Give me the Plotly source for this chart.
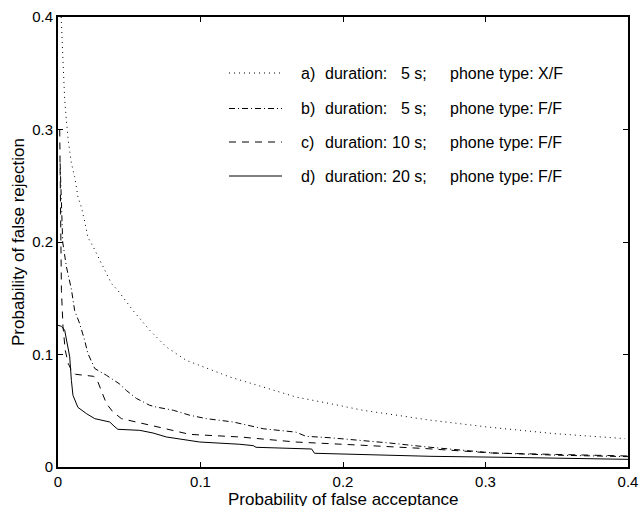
import plotly.graph_objects as go

# ---- data ----
a_x = [0.0022, 0.003, 0.004, 0.0047, 0.0059, 0.0072, 0.0094, 0.0117, 0.014, 0.0164, 0.0188, 0.021,
       0.0246, 0.028, 0.0328, 0.0375, 0.042, 0.0527, 0.0644, 0.076, 0.090, 0.109, 0.1206, 0.144,
       0.167, 0.191, 0.214, 0.238, 0.259, 0.301, 0.348, 0.398]
a_y = [0.40, 0.370, 0.347, 0.326, 0.308, 0.290, 0.270, 0.258, 0.240, 0.231, 0.218, 0.204,
       0.196, 0.187, 0.175, 0.163, 0.157, 0.139, 0.1215, 0.1067, 0.0948, 0.086, 0.080, 0.0711,
       0.0622, 0.0563, 0.0504, 0.046, 0.042, 0.0356, 0.0297, 0.0252]

b_x = [0.0015, 0.0024, 0.0033, 0.0059, 0.0082, 0.0094, 0.0117, 0.0152, 0.0187, 0.021, 0.0258,
       0.034, 0.043, 0.048, 0.055, 0.0644, 0.069, 0.081, 0.0925, 0.104, 0.123, 0.1346, 0.144,
       0.167, 0.174, 0.191, 0.214, 0.233, 0.259, 0.305, 0.35, 0.40]
b_y = [0.27, 0.222, 0.20, 0.178, 0.166, 0.158, 0.139, 0.1275, 0.1126, 0.1008, 0.0875,
       0.0815, 0.074, 0.068, 0.061, 0.0548, 0.0533, 0.0504, 0.046, 0.043, 0.040, 0.037, 0.034,
       0.031, 0.0273, 0.026, 0.0237, 0.0213, 0.0178, 0.0125, 0.0105, 0.0092]

c_x = [0.0012, 0.0015, 0.0018, 0.0024, 0.0035, 0.0051, 0.0072, 0.0094, 0.0123, 0.025, 0.028,
       0.031, 0.034, 0.0385, 0.0445, 0.068, 0.0925, 0.1276, 0.167, 0.214, 0.259, 0.305, 0.35, 0.40]
c_y = [0.30, 0.25, 0.20, 0.157, 0.125, 0.1037, 0.092, 0.086, 0.0824, 0.0806, 0.0756,
       0.066, 0.0563, 0.049, 0.043, 0.0362, 0.029, 0.0267, 0.0222, 0.0193, 0.0163, 0.0124, 0.011, 0.0098]

d_x = [0, 0.0025, 0.0047, 0.0065, 0.0082, 0.0094, 0.0105, 0.014, 0.02, 0.0258, 0.0363, 0.040,
       0.042, 0.0574, 0.0667, 0.076, 0.09, 0.0995, 0.1276, 0.137, 0.139, 0.178, 0.18, 0.214,
       0.261, 0.32, 0.40]
d_y = [0.126, 0.125, 0.1215, 0.11, 0.098, 0.077, 0.0637, 0.053, 0.0474, 0.043, 0.040, 0.0356,
       0.0335, 0.0326, 0.0302, 0.0267, 0.0237, 0.0222, 0.0202, 0.019, 0.0175, 0.016, 0.0122, 0.011,
       0.0095, 0.0085, 0.0068]

labels = ["a)", "b)", "c)", "d)"]
durations = ["5 s;", "5 s;", "10 s;", "20 s;"]
phones = ["phone type: X/F", "phone type: F/F", "phone type: F/F", "phone type: F/F"]
tick_vals = [0, 0.1, 0.2, 0.3, 0.4]
tick_text = ["0", "0.1", "0.2", "0.3", "0.4"]
x_title = "Probability of false acceptance"
y_title = "Probability of false rejection"

# ---- styling ----
FONT = "Liberation Sans, Arial, Helvetica, sans-serif"
dashes = ["1px,4px", "6px,3px,1px,3px", "7px,6px", "solid"]
W, H = 642, 506
ML, MR, MT, MB = 58, 14, 17, 39
PW, PH = W - ML - MR, H - MT - MB


def px2paper(px, py):
    return (px - ML) / PW, (H - MB - py) / PH


fig = go.Figure()
for xs, ys, dash, lab in zip([a_x, b_x, c_x, d_x], [a_y, b_y, c_y, d_y], dashes, labels):
    fig.add_trace(go.Scatter(x=xs, y=ys, mode="lines", name=lab, showlegend=False,
                             line=dict(color="black", width=1, dash=dash)))

# manual legend
row_y = [73, 108.5, 142, 176]
shapes, annots = [], []
for i in range(4):
    x0, y0 = px2paper(229, row_y[i])
    x1, _ = px2paper(282, row_y[i])
    shapes.append(dict(type="line", xref="paper", yref="paper", x0=x0, x1=x1, y0=y0, y1=y0,
                       line=dict(color="black", width=1, dash=dashes[i])))
    common = dict(xref="paper", yref="paper", y=y0, yanchor="middle", showarrow=False,
                  font=dict(family=FONT, size=16, color="black"))
    xa, _ = px2paper(299, row_y[i])
    annots.append(dict(x=xa, xanchor="left", text=labels[i], **common))
    xb, _ = px2paper(323, row_y[i])
    annots.append(dict(x=xb, xanchor="left", text="duration:", **common))
    xc, _ = px2paper(429, row_y[i])
    annots.append(dict(x=xc, xanchor="right", text=durations[i], **common))
    xd, _ = px2paper(448, row_y[i])
    annots.append(dict(x=xd, xanchor="left", text=phones[i], **common))

# axis titles as annotations (reference title sits partly below the page edge)
_, ty = px2paper(0, 500)
annots.append(dict(xref="paper", yref="paper", x=0.5, y=ty, xanchor="center", yanchor="middle",
                   showarrow=False, text=x_title, font=dict(family=FONT, size=17, color="black")))
tx, _ = px2paper(18, 0)
annots.append(dict(xref="paper", yref="paper", x=tx, y=0.5, xanchor="center", yanchor="middle",
                   showarrow=False, textangle=-90, text=y_title,
                   font=dict(family=FONT, size=17, color="black")))

axis_common = dict(range=[0, 0.4], tickvals=tick_vals, ticktext=tick_text, ticks="inside",
                   ticklen=5, tickwidth=1, tickcolor="black", showline=True, linewidth=2,
                   linecolor="black", mirror="ticks", showgrid=False, zeroline=False,
                   tickfont=dict(family=FONT, size=15, color="black"))

fig.update_layout(
    width=W, height=H, margin=dict(l=ML, r=MR, t=MT, b=MB, autoexpand=False),
    paper_bgcolor="white", plot_bgcolor="white",
    xaxis=axis_common, yaxis=axis_common,
    shapes=shapes, annotations=annots, showlegend=False,
)

fig.write_html("out.html")
